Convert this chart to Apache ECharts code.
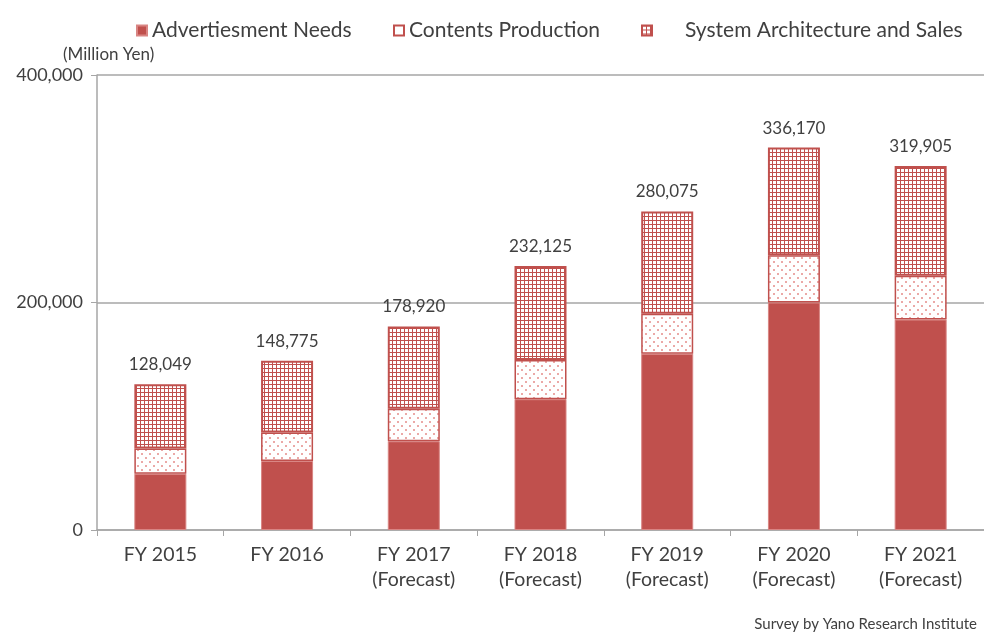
<!DOCTYPE html>
<html>
<head>
<meta charset="utf-8">
<script src="https://cdn.jsdelivr.net/npm/echarts@6/dist/echarts.min.js"></script>
<style>
  html, body { margin: 0; padding: 0; background: #fff; }
  #chart { width: 984px; height: 633px; }
</style>
</head>
<body>
<div id="chart"></div>
<script>
  // data
  var categories = ['FY 2015', 'FY 2016', 'FY 2017\n(Forecast)', 'FY 2018\n(Forecast)', 'FY 2019\n(Forecast)', 'FY 2020\n(Forecast)', 'FY 2021\n(Forecast)']
  var adNeeds = [49500, 60700, 78000, 115000, 155000, 200000, 185000]
  var contents = [22200, 25100, 28600, 34500, 35100, 41600, 38500]
  var systemSales = [56349, 62975, 72320, 82625, 89975, 94570, 96405]
  var totals = [128049, 148775, 178920, 232125, 280075, 336170, 319905]
  var yTicks = [0, 200000, 400000]

  var red = '#c0504d'
  var font = 'Lato'

  // grid pattern for system architecture
  function gridPattern() {
    var c = document.createElement('canvas')
    c.width = 4
    c.height = 4
    var ctx = c.getContext('2d')
    ctx.fillStyle = '#c0504d'
    ctx.fillRect(0, 0, 4, 4)
    ctx.fillStyle = '#ffffff'
    ctx.fillRect(1, 1, 3, 3)
    return c
  }
  // dotted pattern for contents production
  function dotPattern() {
    var c = document.createElement('canvas')
    c.width = 8
    c.height = 8
    var ctx = c.getContext('2d')
    ctx.fillStyle = '#ffffff'
    ctx.fillRect(0, 0, 8, 8)
    ctx.fillStyle = '#eba9a7'
    ctx.fillRect(1, 1, 2, 2)
    ctx.fillRect(5, 5, 2, 2)
    return c
  }

  var myChart = echarts.init(document.getElementById('chart'))
  var option = {
    backgroundColor: '#fff',
    animation: false,
    textStyle: { fontFamily: font },
    title: [
      {
        text: '(Million Yen)',
        left: 58,
        top: 41,
        textStyle: { fontSize: 17, fontWeight: 'normal', color: '#404040', fontFamily: font }
      },
      {
        text: 'Survey by Yano Research Institute',
        right: 2,
        top: 612,
        textStyle: { fontSize: 15, fontWeight: 'normal', color: '#404040', fontFamily: font }
      }
    ],
    legend: [
      {
        left: 131, top: 15, itemWidth: 10, itemHeight: 10,
        textStyle: { fontSize: 21, color: '#404040', fontFamily: font },
        data: [{ name: 'Advertiesment Needs', icon: 'rect' }]
      },
      {
        left: 388, top: 15, itemWidth: 10, itemHeight: 10,
        textStyle: { fontSize: 21, color: '#404040', fontFamily: font },
        data: [{ name: 'Contents Production', icon: 'rect', itemStyle: { color: '#fff', borderColor: red, borderWidth: 2 } }]
      },
      {
        left: 636, top: 15, itemWidth: 10, itemHeight: 10,
        textStyle: { fontSize: 21, color: '#404040', fontFamily: font, padding: [0, 0, 0, 28] },
        data: [{ name: 'System Architecture and Sales', icon: 'rect' }]
      }
    ],
    grid: {
      left: 97,
      width: 891,
      top: 75,
      bottom: 103
    },
    xAxis: {
      type: 'category',
      data: categories,
      axisLine: { lineStyle: { color: '#a6a6a6', width: 1.5 } },
      axisTick: { show: true, length: 6, lineStyle: { color: '#a6a6a6' } },
      axisLabel: { fontSize: 19.5, color: '#404040', margin: 12, lineHeight: 25, fontFamily: font }
    },
    yAxis: {
      type: 'value',
      min: 0,
      max: 400000,
      interval: 200000,
      axisLine: { show: true, lineStyle: { color: '#a6a6a6', width: 1.5 } },
      axisTick: { show: true, length: 6, lineStyle: { color: '#a6a6a6' } },
      splitLine: { show: true, lineStyle: { color: '#a6a6a6', width: 1.5 } },
      axisLabel: {
        fontSize: 18,
        color: '#404040',
        margin: 14,
        fontFamily: font,
        formatter: function(v) {
          return yTicks.indexOf(v) >= 0 ? v.toLocaleString('en-US') : ''
        }
      }
    },
    series: [
      {
        name: 'Advertiesment Needs',
        type: 'bar',
        stack: 'total',
        barWidth: 52,
        itemStyle: { color: red, borderColor: '#d98583', borderWidth: 1 },
        data: adNeeds
      },
      {
        name: 'Contents Production',
        type: 'bar',
        stack: 'total',
        barWidth: 52,
        itemStyle: { color: { image: dotPattern(), repeat: 'repeat' }, borderColor: red, borderWidth: 1.5 },
        data: contents
      },
      {
        name: 'System Architecture and Sales',
        type: 'bar',
        stack: 'total',
        barWidth: 52,
        itemStyle: { color: { image: gridPattern(), repeat: 'repeat' }, borderColor: red, borderWidth: 2 },
        label: {
          show: true,
          position: 'top',
          distance: 11,
          fontSize: 17,
          color: '#404040',
          fontFamily: font,
          formatter: function(params) {
            return totals[params.dataIndex].toLocaleString('en-US')
          }
        },
        data: systemSales
      }
    ]
  }
  myChart.setOption(option)
</script>
</body>
</html>
